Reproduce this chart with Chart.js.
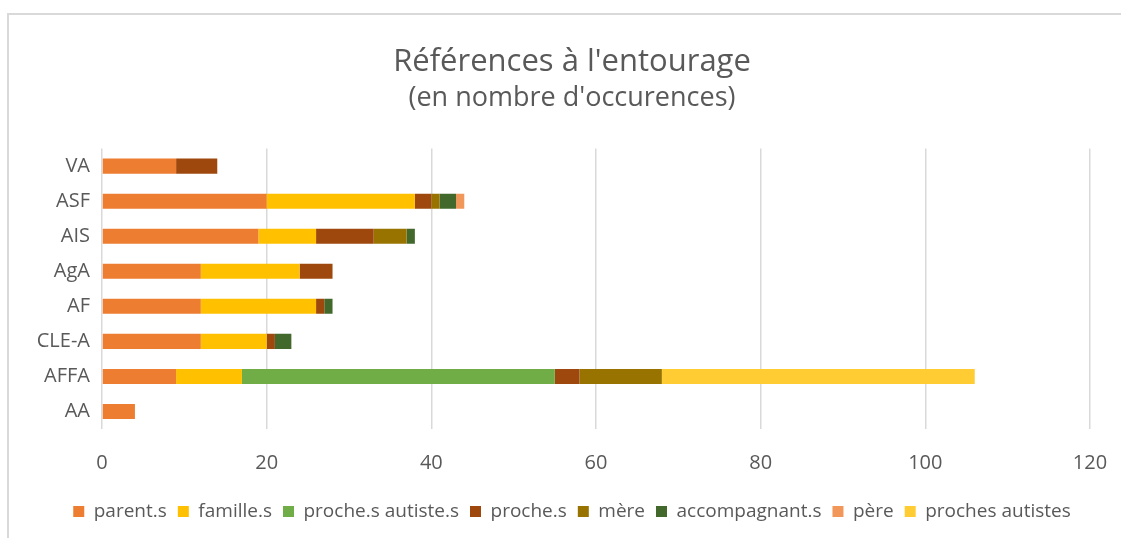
<!DOCTYPE html>
<html>
<head>
<meta charset="utf-8">
<script src="https://cdn.jsdelivr.net/npm/chart.js@4/dist/chart.umd.min.js"></script>
<style>
  html, body { margin: 0; padding: 0; background: #fff; overflow: hidden; }
  #wrap { position: relative; width: 1121px; height: 538px; overflow: hidden; }
  #frame { position: absolute; left: 7px; top: 13px; width: 1200px; height: 600px;
           border-left: 2px solid #d9d9d9; border-top: 2px solid #d9d9d9; }
  canvas { position: absolute; left: 0; top: 0; }
</style>
</head>
<body>
<div id="wrap">
  <div id="frame"></div>
  <canvas id="chart" width="1140" height="538"></canvas>
</div>
<script>
// categories, top to bottom
const groupes = ['VA', 'ASF', 'AIS', 'AgA', 'AF', 'CLE-A', 'AFFA', 'AA'];

const parents = [9, 20, 19, 12, 12, 12, 9, 4];
const familles = [0, 18, 7, 12, 14, 8, 8, 0];
const prochesAutistesS = [0, 0, 0, 0, 0, 0, 38, 0];
const proches = [5, 2, 7, 4, 1, 1, 3, 0];
const meres = [0, 1, 4, 0, 0, 0, 10, 0];
const accompagnants = [0, 2, 1, 0, 1, 2, 0, 0];
const peres = [0, 1, 0, 0, 0, 0, 0, 0];
const prochesAutistes = [0, 0, 0, 0, 0, 0, 38, 0];

const xTicks = [0, 20, 40, 60, 80, 100, 120];

const grey = '#595959';
const font = '"Open Sans", Lato, sans-serif';

var serie = (label, data, color) => {
	return {
		label: label,
		data: data,
		backgroundColor: color,
		borderWidth: 0,
		categoryPercentage: 1,
		barPercentage: 0.43
	}
}

new Chart(document.getElementById('chart'), {
	type: 'bar',
	data: {
		labels: groupes,
		datasets: [
			serie('parent.s', parents, '#ED7D31'),
			serie('famille.s', familles, '#FFC000'),
			serie('proche.s autiste.s', prochesAutistesS, '#70AD47'),
			serie('proche.s', proches, '#9E480E'),
			serie('mère', meres, '#997300'),
			serie('accompagnant.s', accompagnants, '#43682B'),
			serie('père', peres, '#F1975A'),
			serie('proches autistes', prochesAutistes, '#FFCD33')
		]
	},
	options: {
		indexAxis: 'y',
		responsive: false,
		animation: false,
		layout: { padding: { left: 8, right: 4, top: 14, bottom: 7 } },
		scales: {
			x: {
				stacked: true,
				min: 0,
				max: 120,
				afterBuildTicks: (scale) => { scale.ticks = xTicks.map(v => ({ value: v })) },
				border: { display: false },
				grid: { color: '#d9d9d9', lineWidth: 1.5, drawTicks: false },
				ticks: { color: grey, font: { family: font, size: 20 }, padding: 22 },
				afterFit: (scale) => { scale.height = 62 }
			},
			y: {
				stacked: true,
				border: { display: false },
				grid: { display: false, drawTicks: false },
				ticks: { color: grey, font: { family: font, size: 20 }, padding: 12 },
				afterFit: (scale) => { scale.width = 94 }
			},
			// empty space on the right side of the plot
			yRight: {
				position: 'right',
				border: { display: false },
				grid: { display: false, drawTicks: false },
				ticks: { display: false },
				afterFit: (scale) => { scale.width = 46 }
			}
		},
		plugins: {
			title: {
				display: true,
				text: 'Références à l\'entourage',
				color: grey,
				font: { family: font, size: 31, weight: 'normal' },
				padding: { top: 30, bottom: 1 }
			},
			subtitle: {
				display: true,
				text: '(en nombre d\'occurences)',
				color: grey,
				font: { family: font, size: 27, weight: 'normal' },
				padding: { bottom: 34 }
			},
			legend: {
				position: 'bottom',
				labels: {
					color: grey,
					font: { family: font, size: 19 },
					boxWidth: 11,
					boxHeight: 11,
					padding: 11
				}
			},
			tooltip: { enabled: false }
		}
	}
});
</script>
</body>
</html>
